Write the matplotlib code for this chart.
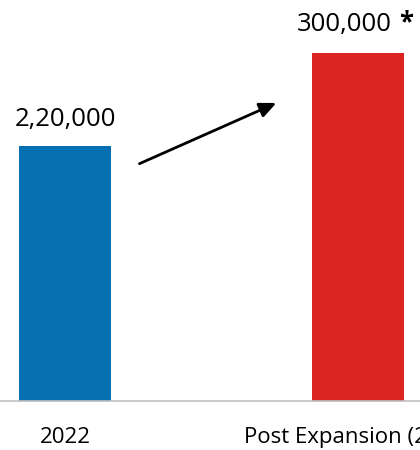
import matplotlib.pyplot as plt

# chart data
categories = ["2022", "Post Expansion (2025)"]
values = [220000, 300000]
value_labels = ["2,20,000", "300,000"]
bar_colors = ["#046fb1", "#da2520"]

plt.rcParams['font.family'] = ['Open Sans', 'DejaVu Sans']

fig = plt.figure(figsize=(4.2, 4.5), dpi=100)
ax = fig.add_axes([0, 49 / 450, 1, 401 / 450])

x = list(range(len(categories)))
bars = ax.bar(x, values, width=0.314, color=bar_colors)

ax.set_xlim(-0.222, 1.212)
ax.set_ylim(0, 300000 * 401 / 348)

# value labels above the bars
ax.annotate(value_labels[0], xy=(x[0], values[0]), xytext=(0, 14.5),
            textcoords='offset points', ha='center', va='baseline', fontsize=18.5)
t2 = ax.annotate(value_labels[1], xy=(x[1], values[1]), xytext=(-9.5, 16),
                 textcoords='offset points', ha='center', va='baseline', fontsize=18.5)
ax.annotate("*", xy=(1, 0), xycoords=t2, xytext=(5, 0), textcoords='offset points',
            ha='left', va='bottom', fontsize=18.5, fontweight='bold')

# growth arrow between the bars
ax.annotate("", xy=(0.664, 0.746), xytext=(0.326, 0.589), xycoords='axes fraction',
            textcoords='axes fraction',
            arrowprops=dict(arrowstyle='-|>,head_length=1.0,head_width=0.45',
                            color='black', lw=2))

ax.set_xticks(x)
ax.set_xticklabels(categories, fontsize=16)
ax.tick_params(axis='x', length=0, pad=18.5)
ax.set_yticks([])
for side in ['top', 'left', 'right']:
    ax.spines[side].set_visible(False)
ax.spines['bottom'].set_color('#bfbfbf')
ax.spines['bottom'].set_linewidth(1.2)

fig.savefig("out.png", dpi=100)
